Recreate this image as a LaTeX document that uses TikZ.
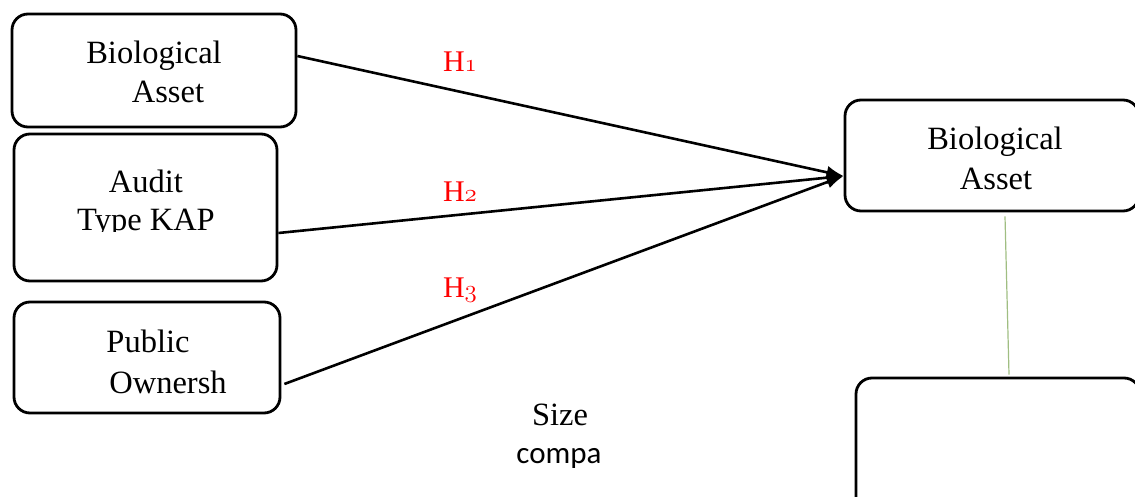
\documentclass[tikz,border=0pt]{standalone}
\usepackage{fontspec}
\setmainfont{Liberation Serif}
\newfontfamily\sanf{Carlito}
\usetikzlibrary{arrows.meta}
\definecolor{softgreen}{RGB}{160,190,130}
\tikzset{
  box/.style={draw=black, line width=2.8pt, rounded corners=16pt, inner sep=0pt},
  lbl/.style={anchor=base, inner sep=0pt, font=\fontsize{32.5}{38}\selectfont},
  hyp/.style={anchor=base, inner sep=0pt, text=red, font=\fontsize{30}{34}\selectfont},
  link/.style={line width=2.6pt, -{Latex[length=17pt,width=13pt]}},
}
\newcommand{\osn}[1]{{\fontsize{34}{36}\usefont{OML}{cmm}{m}{it}#1}}
\begin{document}
\begin{tikzpicture}[x=1pt,y=-1pt]
\useasboundingbox (0,0) rectangle (1135,497);
\clip (0,0) rectangle (1135,497);
% boxes
\node[box, minimum width=284pt, minimum height=113pt] (b1) at (154,70.5) {};
\node[box, minimum width=263pt, minimum height=147pt] (b2) at (145.5,207.5) {};
\node[box, minimum width=266pt, minimum height=111pt] (b3) at (147,357.5) {};
\node[box, minimum width=294pt, minimum height=111pt] (rb) at (992,155.5) {};
\node[box, minimum width=284pt, minimum height=142pt] (bb) at (998,449) {};
% texts
\node[lbl] (t1a) at (154,64) {Biological};
\node[lbl] (t1b) at (168,103) {Asset};
\node[lbl] (t2a) at (146,193) {Audit};
\begin{scope}
\clip (0,0) rectangle (300,232);
\node[lbl] (t2b) at (146,230) {Type KAP};
\end{scope}
\node[lbl] (t3a) at (148,352) {Public};
\node[lbl] (t3b) at (168,393) {Ownersh};
\node[lbl] (tra) at (995,150) {Biological};
\node[lbl] (trb) at (996,190) {Asset};
\node[lbl] (sz) at (560,425) {Size};
\node[lbl, font=\sanf\fontsize{31}{36}\selectfont] (cp) at (559,463) {compa};
% hypotheses
\node[hyp] (h1) at (460,72) {H\osn{1}};
\node[hyp] (h2) at (460,202) {H\osn{2}};
\node[hyp] (h3) at (460,297) {H\osn{3}};
% connectors
\coordinate (tip) at ([yshift=-20.5pt]rb.west);
\draw[link] ([yshift=14.5pt]b1.east) -- (tip);
\draw[link] ([yshift=-25.5pt]b2.east) -- (tip);
\draw[link] ([xshift=3pt,yshift=-26.5pt]b3.east) -- (tip);
\draw[softgreen, line width=1.2pt] ([xshift=13pt,yshift=-4pt]rb.south) -- ([xshift=11pt,yshift=2pt]bb.north);
\end{tikzpicture}
\end{document}
